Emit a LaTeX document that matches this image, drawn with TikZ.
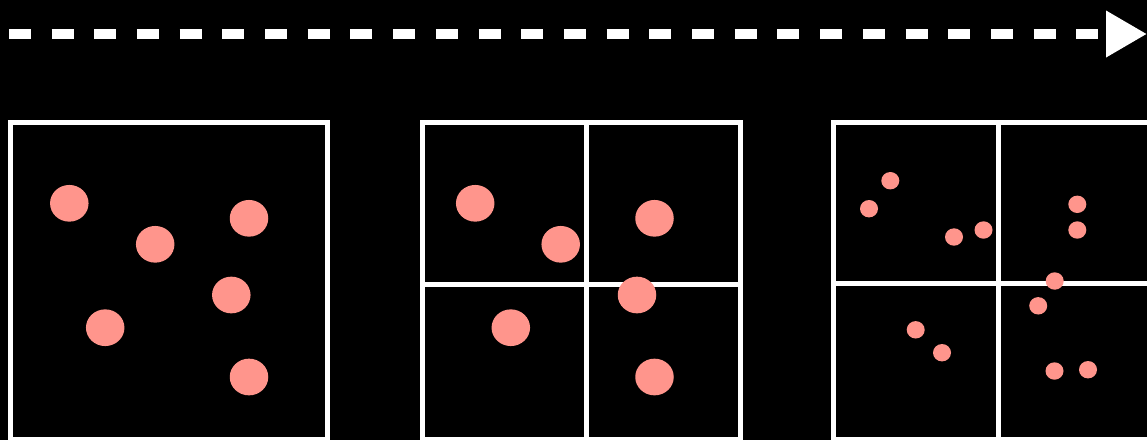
\documentclass[tikz,border=0pt]{standalone}
\usepackage{tikz}
\usetikzlibrary{arrows.meta,shapes.geometric}
\definecolor{salmon}{RGB}{255,149,140}

\begin{document}
\begin{tikzpicture}[%
        x=1pt, y=-1pt,
        frame/.style={draw=white, line width=5pt},
        bigdot/.style={ellipse, fill=salmon, inner sep=0pt, minimum width=38.5pt, minimum height=36.7pt},
        smalldot/.style={ellipse, fill=salmon, inner sep=0pt, minimum width=18pt, minimum height=17.4pt},
        timeline/.style={draw=white, line width=10pt, dash pattern=on 22pt off 20.7pt, -{Triangle[length=41pt, width=44pt]}}]
        % Background
        \useasboundingbox (0,0) rectangle (1147,440);
        \fill[black] (0,0) rectangle (1147,440);
        \clip (0,0) rectangle (1147,440);

        % Arrow
        \coordinate (start) at (8.8,34);
        \coordinate (end) at (1147,34);
        \draw[timeline] (start) -- (end);

        % Frames
        \draw[frame] (10,122) rectangle (327.5,439.5);
        \draw[frame] (422,122) rectangle (740,439.5);
        \draw[frame] (586,122) -- (586,439.5);
        \draw[frame] (422,284) -- (740,284);
        \draw[frame] (833.7,122) rectangle (1160,439.5);
        \draw[frame] (998,122) -- (998,439.5);
        \draw[frame] (833.7,283.5) -- (1160,283.5);

        % Points, one cell
        \node [bigdot] (a1) at (69.3,203.3) {};
        \node [bigdot] (a2) at (155.2,244.3) {};
        \node [bigdot] (a3) at (249,218.3) {};
        \node [bigdot] (a4) at (231.3,295) {};
        \node [bigdot] (a5) at (105.2,327.7) {};
        \node [bigdot] (a6) at (249,377) {};

        % Points, four cells
        \node [bigdot] (b1) at (475.2,203.3) {};
        \node [bigdot] (b2) at (560.7,244.3) {};
        \node [bigdot] (b3) at (654.5,218.3) {};
        \node [bigdot] (b4) at (637,295) {};
        \node [bigdot] (b5) at (510.8,327.7) {};
        \node [bigdot] (b6) at (654.5,377) {};

        % Points, four cells, finer
        \node [smalldot] (c1) at (890.3,180.7) {};
        \node [smalldot] (c2) at (869,208.7) {};
        \node [smalldot] (c3) at (954,237) {};
        \node [smalldot] (c4) at (983.5,230) {};
        \node [smalldot] (c5) at (1077.3,204.3) {};
        \node [smalldot] (c6) at (1077.3,230) {};
        \node [smalldot] (c7) at (1054.7,281) {};
        \node [smalldot] (c8) at (1038.2,305.8) {};
        \node [smalldot] (c9) at (915.7,329.8) {};
        \node [smalldot] (c10) at (942,352.7) {};
        \node [smalldot] (c11) at (1054.5,371) {};
        \node [smalldot] (c12) at (1088,369.7) {};
    \end{tikzpicture}
\end{document}
